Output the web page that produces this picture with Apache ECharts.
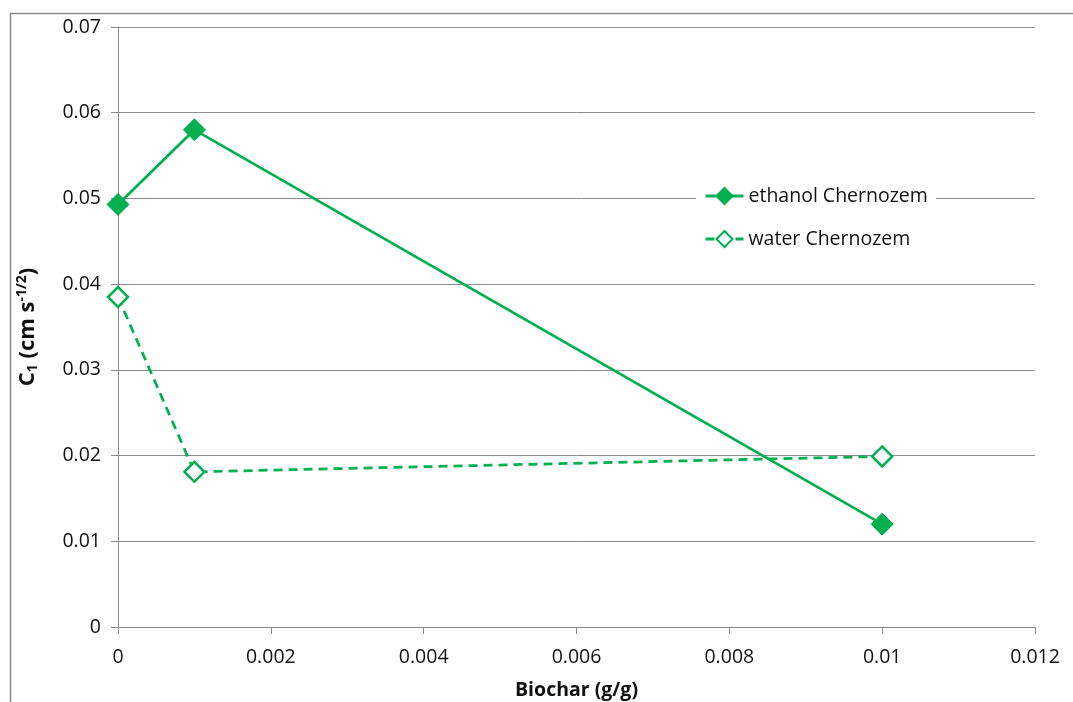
<!DOCTYPE html>
<html><head><meta charset="utf-8">
<script src="https://cdn.jsdelivr.net/npm/echarts@6/dist/echarts.min.js"></script>
<style>html,body{margin:0;padding:0;background:#fff}#c{width:1073px;height:702px}</style>
</head><body><div id="c"></div>
<script>
const biochar = [0, 0.001, 0.01];
const ethanolChernozem = [0.0493, 0.0580, 0.0120];
const waterChernozem = [0.0385, 0.0181, 0.0199];
const seriesNames = ['ethanol Chernozem', 'water Chernozem'];
const green = '#00B050';
const font = 'Open Sans';
const chart = echarts.init(document.getElementById('c'));
chart.setOption({
  animation: false,
  backgroundColor: '#fff',
  graphic: [{type: 'rect', left: 8, top: 11, shape: {width: 1100, height: 720}, style: {fill: 'none', stroke: '#8c8c8c', lineWidth: 1.5}, silent: true}],
  grid: {left: 118, right: 38, top: 27, bottom: 75, containLabel: false, outerBoundsMode: 'none'},
  legend: {
    orient: 'vertical', left: 696, top: 180, itemGap: 23, itemWidth: 38, itemHeight: 20,
    backgroundColor: '#fff', padding: [6, 8],
    lineStyle: {width: 3},
    textStyle: {fontFamily: font, fontSize: 19.5, color: '#111'},
    data: seriesNames
  },
  xAxis: {
    type: 'value', min: 0, max: 0.012, interval: 0.002,
    name: 'Biochar (g/g)', nameLocation: 'middle', nameGap: 53,
    nameTextStyle: {fontFamily: font, fontSize: 19.5, fontWeight: 'bold', color: '#111'},
    axisLine: {show: true, lineStyle: {color: '#888', width: 1}},
    axisTick: {show: true, inside: false, length: 7, lineStyle: {color: '#888'}},
    axisLabel: {fontFamily: font, fontSize: 19.5, color: '#111', margin: 20, formatter: v => String(+v.toFixed(3))},
    splitLine: {show: false}
  },
  yAxis: {
    type: 'value', min: 0, max: 0.07, interval: 0.01,
    name: '{b|C}{sub|1}{b| (cm s}{sup|-1/2}{b|)}', nameLocation: 'middle', nameGap: 78, nameRotate: 90,
    nameTextStyle: {
      rich: {
        b: {fontFamily: font, fontSize: 22, fontWeight: 'bold', color: '#111'},
        sub: {fontFamily: font, fontSize: 14, fontWeight: 'bold', color: '#111', verticalAlign: 'bottom', padding: [11, 0, 0, 0]},
        sup: {fontFamily: font, fontSize: 14, fontWeight: 'bold', color: '#111', verticalAlign: 'top', padding: [0, 0, 11, 0]}
      }
    },
    axisLine: {show: true, lineStyle: {color: '#888', width: 1}},
    axisTick: {show: true, inside: false, length: 7, lineStyle: {color: '#888'}},
    axisLabel: {fontFamily: font, fontSize: 19.5, color: '#111', margin: 17, formatter: v => String(+v.toFixed(2))},
    splitLine: {show: true, lineStyle: {color: '#8c8c8c', width: 1}}
  },
  series: [
    {
      name: seriesNames[0], type: 'line', data: biochar.map((x, i) => [x, ethanolChernozem[i]]),
      symbol: 'diamond', symbolSize: 22,
      lineStyle: {color: green, width: 2.75},
      itemStyle: {color: green, borderColor: green, borderWidth: 1}
    },
    {
      name: seriesNames[1], type: 'line', data: biochar.map((x, i) => [x, waterChernozem[i]]),
      symbol: 'diamond', symbolSize: 20,
      lineStyle: {color: green, width: 2.75, type: [9, 6]},
      itemStyle: {color: '#fff', borderColor: green, borderWidth: 2.5}
    }
  ]
});
</script></body></html>
